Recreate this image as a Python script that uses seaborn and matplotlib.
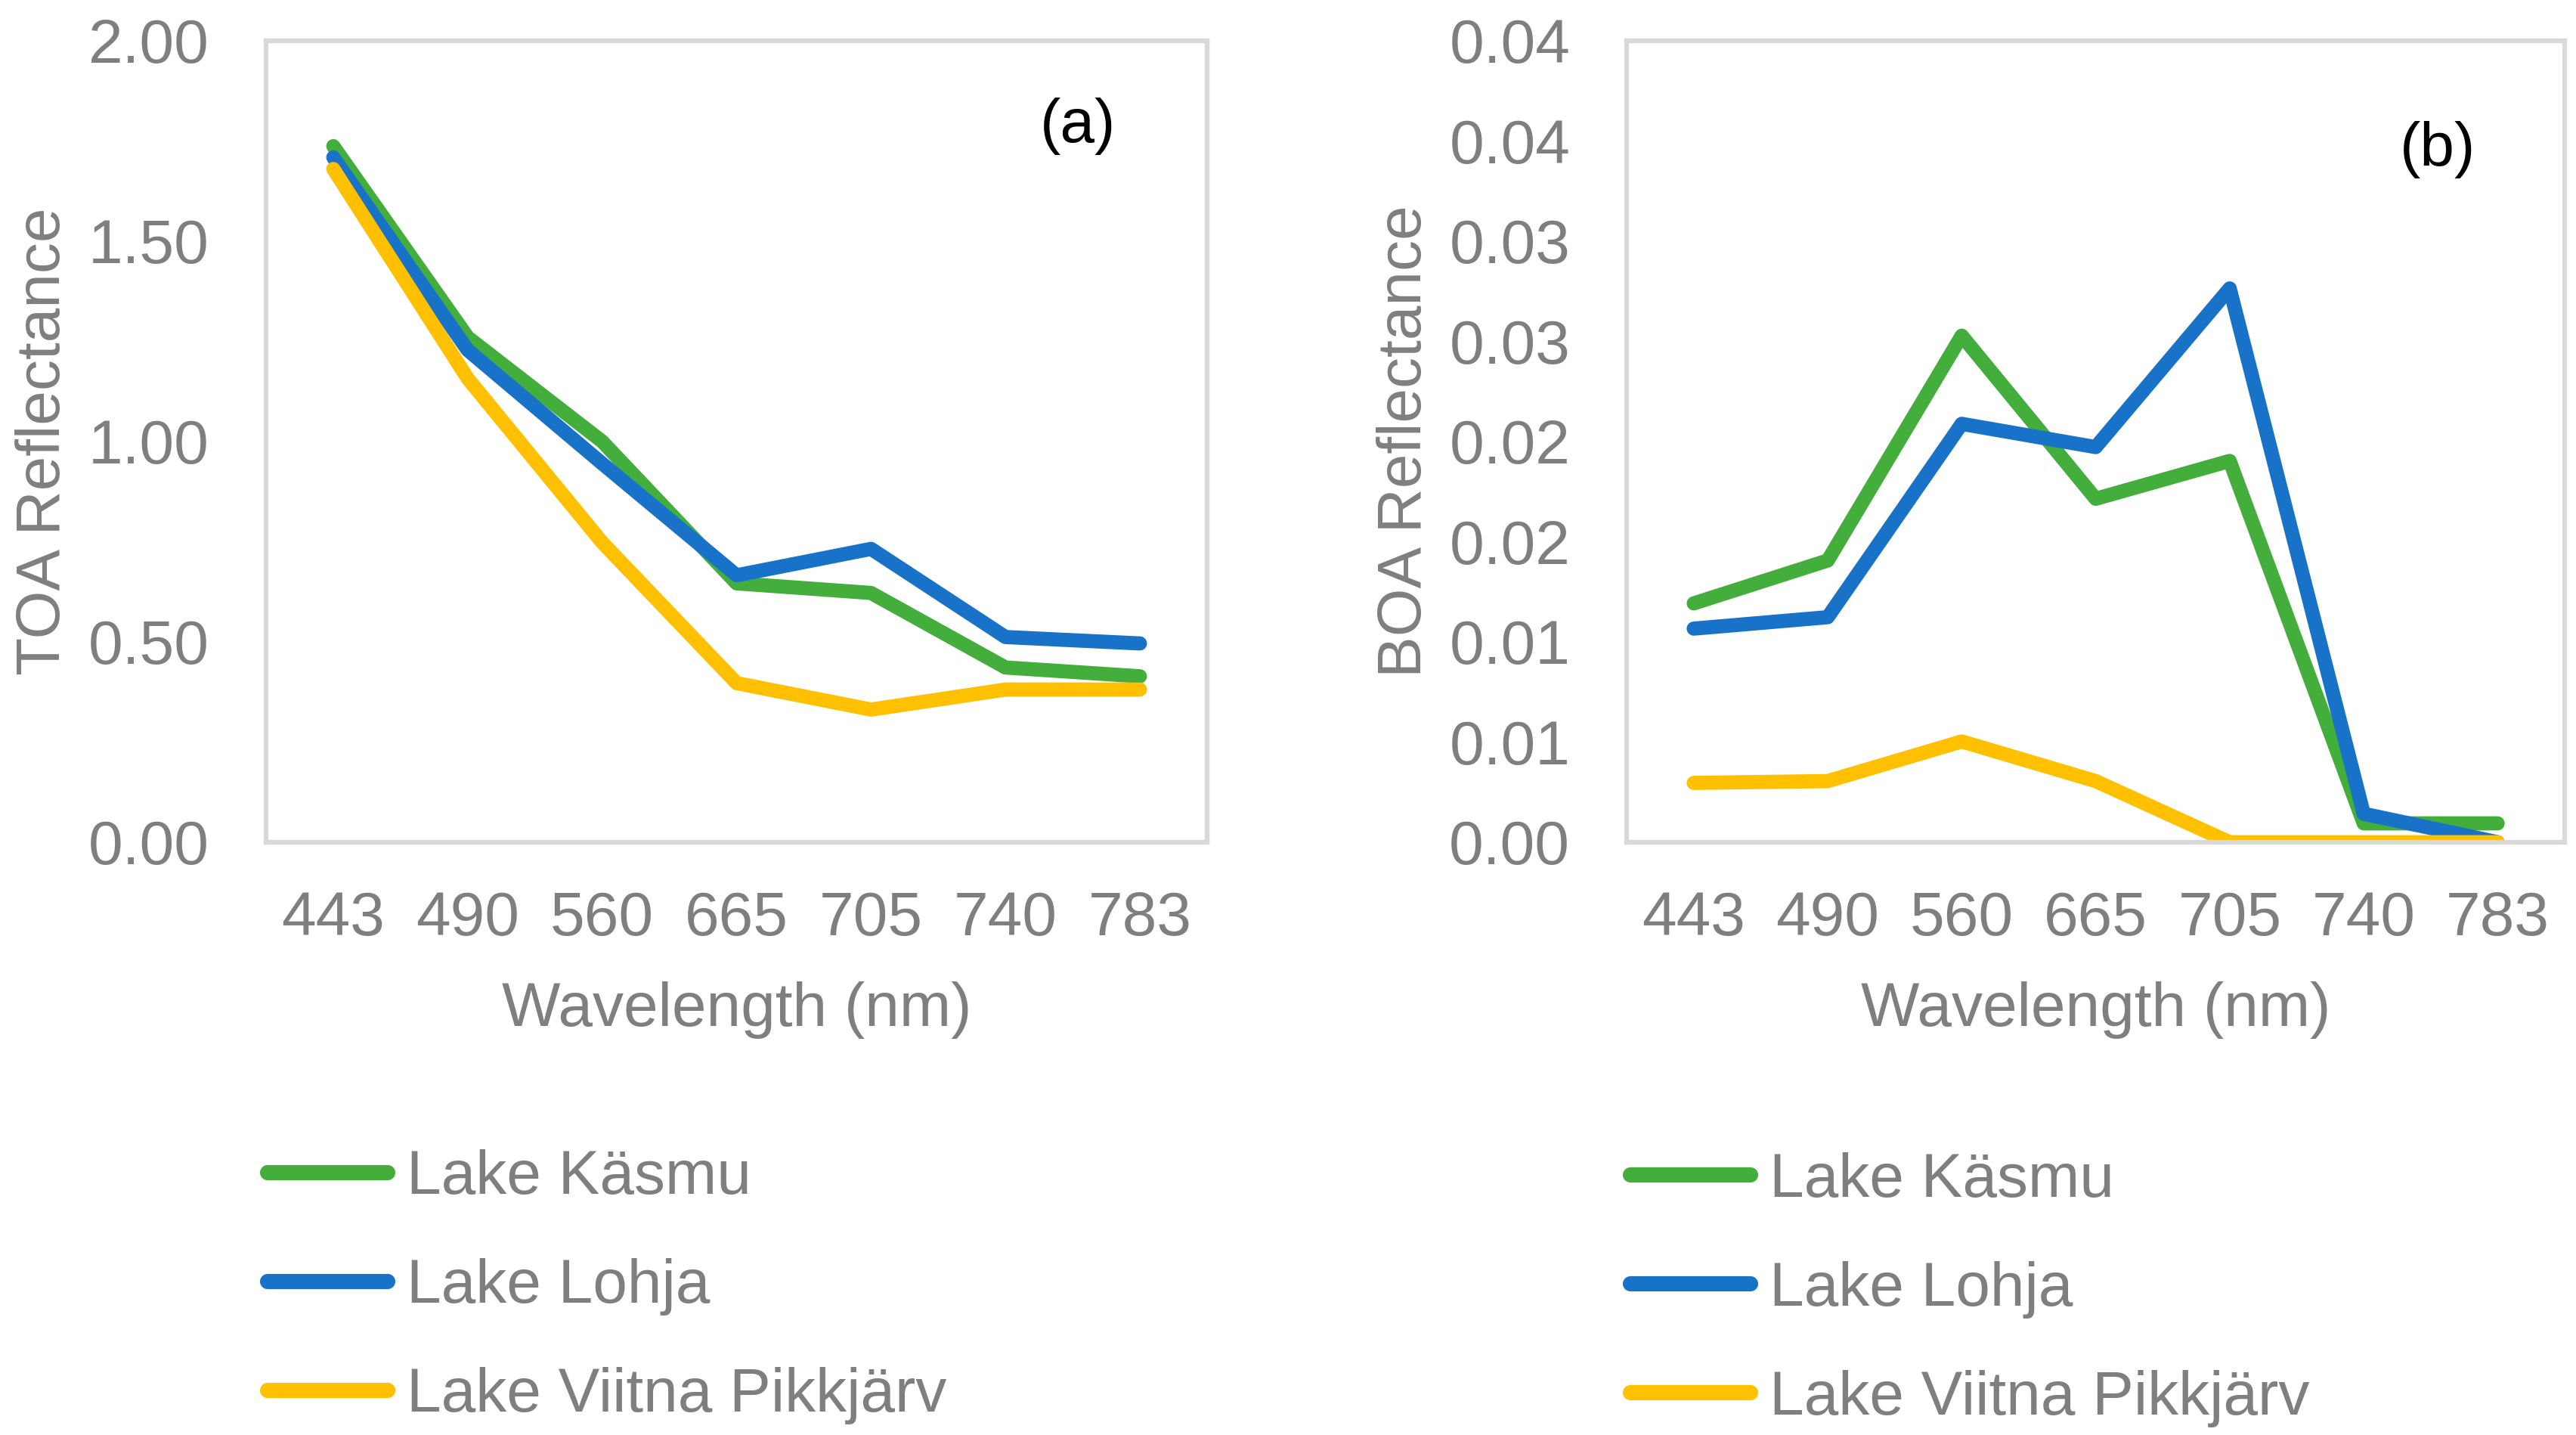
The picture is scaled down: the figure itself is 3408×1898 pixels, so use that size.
import numpy as np
import pandas as pd
import matplotlib
matplotlib.use("Agg")
import matplotlib.pyplot as plt
from matplotlib.lines import Line2D
from matplotlib.ticker import FormatStrFormatter
import seaborn as sns

# Data
wavelengths = ["443", "490", "560", "665", "705", "740", "783"]
lakes = ["Lake Käsmu", "Lake Lohja", "Lake Viitna Pikkjärv"]

toa_kasmu = [1.737, 1.260, 1.000, 0.646, 0.622, 0.436, 0.414]
toa_lohja = [1.709, 1.228, 0.945, 0.666, 0.732, 0.512, 0.496]
toa_viitna = [1.680, 1.157, 0.748, 0.397, 0.331, 0.381, 0.381]

boa_kasmu = [0.01192, 0.01406, 0.02528, 0.01714, 0.01903, 0.00094, 0.00094]
boa_lohja = [0.01066, 0.01123, 0.02088, 0.01972, 0.02764, 0.00142, 0.0]
boa_viitna = [0.00296, 0.00305, 0.00503, 0.00305, 0.0, 0.0, 0.0]

toa_ticks = [0.0, 0.5, 1.0, 1.5, 2.0]
boa_ticks = [0.0, 0.005, 0.01, 0.015, 0.02, 0.025, 0.03, 0.035, 0.04]
boa_tick_labels = ["0.00", "0.01", "0.01", "0.02", "0.02", "0.03", "0.03", "0.04", "0.04"]

colors = ["#44AE3C", "#1873C8", "#FFC000"]
gray = "#7F7F7F"
box = "#D9D9D9"
fs = 59

# long-form table for seaborn
rows = []
for lake, toa, boa in zip(lakes, [toa_kasmu, toa_lohja, toa_viitna],
                          [boa_kasmu, boa_lohja, boa_viitna]):
    for w, t, b in zip(wavelengths, toa, boa):
        rows.append({"wavelength": w, "lake": lake, "toa": t, "boa": b})
df = pd.DataFrame(rows)

sns.set_theme(style="white")
plt.rcParams['font.family'] = ['Liberation Sans', 'DejaVu Sans']

fig = plt.figure(figsize=(34.08, 18.98), dpi=100)
ax1 = fig.add_axes([0.1033, 0.4131, 0.3653, 0.5585])
ax2 = fig.add_axes([0.6315, 0.4131, 0.3641, 0.5585])


def draw_panel(ax, ycol, ylabel, tag, tag_xy):
    sns.lineplot(data=df, x="wavelength", y=ycol, hue="lake", hue_order=lakes,
                 palette=colors, linewidth=13.5, sort=False, legend=False,
                 ax=ax)
    for ln in ax.get_lines():
        ln.set_solid_capstyle("round")
        ln.set_solid_joinstyle("round")
    ax.set_xlim(-0.5, len(wavelengths) - 0.5)
    for sp in ax.spines.values():
        sp.set_visible(True)
        sp.set_color(box)
        sp.set_linewidth(4.5)
    ax.tick_params(axis="both", length=0, labelsize=fs, labelcolor=gray)
    ax.tick_params(axis="y", pad=54)
    ax.tick_params(axis="x", pad=46)
    ax.set_xlabel("Wavelength (nm)", fontsize=fs, color=gray)
    ax.set_ylabel(ylabel, fontsize=fs, color=gray)
    ax.xaxis.set_label_coords(0.5, -0.174)
    ax.yaxis.set_label_coords(-0.206, 0.5)
    ax.text(tag_xy[0], tag_xy[1], tag, transform=ax.transAxes, fontsize=fs,
            color="black", ha="center", va="center")


draw_panel(ax1, "toa", "TOA Reflectance", "(a)", (0.863, 0.893))
ax1.set_ylim(0, 2.0)
ax1.set_yticks(toa_ticks)
ax1.yaxis.set_major_formatter(FormatStrFormatter("%.2f"))

draw_panel(ax2, "boa", "BOA Reflectance", "(b)", (0.865, 0.864))
ax2.set_ylim(0, 0.04)
ax2.set_yticks(boa_ticks)
ax2.set_yticklabels(boa_tick_labels)

# legends below each panel
handles = [Line2D([0], [0], color=c, lw=14.5, solid_capstyle="round")
           for c in colors]
for x0, y0 in [(354 / 3408, 0.199), (2157 / 3408, 0.197)]:
    fig.legend(handles, lakes, loc="upper left", bbox_to_anchor=(x0, y0),
               frameon=False, fontsize=fs, labelcolor=gray, handlelength=1.94,
               handletextpad=0.3, labelspacing=0.83, borderpad=0,
               borderaxespad=0)

fig.savefig("out.png", dpi=100, facecolor="white")
